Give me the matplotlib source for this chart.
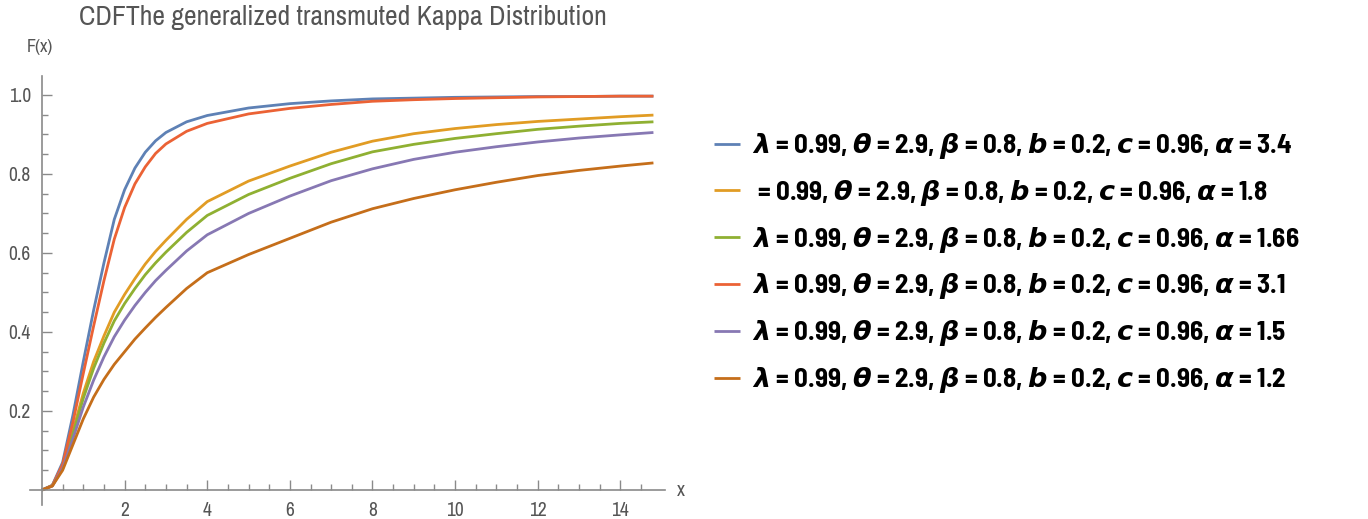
import matplotlib.pyplot as plt
import numpy as np
from matplotlib.ticker import FixedLocator

# values
x = [0, 0.25, 0.5, 0.75, 1, 1.25, 1.5, 1.75, 2, 2.25, 2.5, 2.75, 3, 3.5, 4,
     5, 6, 7, 8, 9, 10, 11, 12, 13, 14, 14.8]

cdf_a34 = [0, 0.012, 0.07, 0.19, 0.325, 0.455, 0.575, 0.685, 0.76, 0.815, 0.855, 0.884, 0.905, 0.932, 0.948,
           0.967, 0.978, 0.985, 0.99, 0.992, 0.994, 0.995, 0.996, 0.996, 0.997, 0.997]
cdf_a18 = [0, 0.011, 0.06, 0.15, 0.245, 0.325, 0.39, 0.45, 0.495, 0.535, 0.572, 0.604, 0.632, 0.685, 0.73,
           0.782, 0.82, 0.855, 0.883, 0.902, 0.915, 0.925, 0.933, 0.939, 0.945, 0.949]
cdf_a166 = [0, 0.011, 0.058, 0.143, 0.232, 0.308, 0.372, 0.428, 0.472, 0.51, 0.545, 0.575, 0.602, 0.652, 0.695,
            0.748, 0.789, 0.826, 0.856, 0.875, 0.89, 0.902, 0.913, 0.921, 0.928, 0.932]
cdf_a31 = [0, 0.011, 0.065, 0.172, 0.295, 0.415, 0.53, 0.635, 0.715, 0.775, 0.818, 0.852, 0.876, 0.908, 0.928,
           0.952, 0.966, 0.976, 0.984, 0.988, 0.991, 0.993, 0.995, 0.996, 0.997, 0.997]
cdf_a15 = [0, 0.01, 0.055, 0.13, 0.21, 0.278, 0.337, 0.388, 0.43, 0.467, 0.5, 0.53, 0.556, 0.605, 0.646,
           0.70, 0.744, 0.783, 0.813, 0.837, 0.855, 0.869, 0.881, 0.891, 0.899, 0.905]
cdf_a12 = [0, 0.01, 0.05, 0.115, 0.18, 0.235, 0.28, 0.318, 0.35, 0.382, 0.41, 0.437, 0.462, 0.51, 0.55,
           0.596, 0.637, 0.678, 0.712, 0.738, 0.76, 0.779, 0.796, 0.809, 0.82, 0.828]

labels = [
    r"$\lambda$ = 0.99, $\theta$ = 2.9, $\beta$ = 0.8, $b$ = 0.2, $c$ = 0.96, $\alpha$ = 3.4",
    r" = 0.99, $\theta$ = 2.9, $\beta$ = 0.8, $b$ = 0.2, $c$ = 0.96, $\alpha$ = 1.8",
    r"$\lambda$ = 0.99, $\theta$ = 2.9, $\beta$ = 0.8, $b$ = 0.2, $c$ = 0.96, $\alpha$ = 1.66",
    r"$\lambda$ = 0.99, $\theta$ = 2.9, $\beta$ = 0.8, $b$ = 0.2, $c$ = 0.96, $\alpha$ = 3.1",
    r"$\lambda$ = 0.99, $\theta$ = 2.9, $\beta$ = 0.8, $b$ = 0.2, $c$ = 0.96, $\alpha$ = 1.5",
    r"$\lambda$ = 0.99, $\theta$ = 2.9, $\beta$ = 0.8, $b$ = 0.2, $c$ = 0.96, $\alpha$ = 1.2",
]
series = [cdf_a34, cdf_a18, cdf_a166, cdf_a31, cdf_a15, cdf_a12]
colors = ['#5E81B5', '#E19C24', '#8FB032', '#EB6235', '#8778B3', '#C56E1A']

narrow = ['Archivo Narrow', 'DejaVu Sans']
legend_font = ['Barlow Semi Condensed', 'DejaVu Sans']
plt.rcParams['font.family'] = narrow
plt.rcParams['mathtext.fontset'] = 'custom'
plt.rcParams['mathtext.it'] = 'DejaVu Sans:italic:bold'
plt.rcParams['mathtext.rm'] = 'DejaVu Sans:bold'
plt.rcParams['mathtext.bf'] = 'DejaVu Sans:bold'

fig = plt.figure(figsize=(13.68, 5.19), dpi=100)
ax = fig.add_axes([30 / 1368, 14 / 519, 635 / 1368, 429 / 519])

for ys, c, lab in zip(series, colors, labels):
    ax.plot(x, ys, color=c, lw=2.0, label=lab, solid_capstyle='butt')

ax.set_xlim(-0.29, 15.08)
ax.set_ylim(-0.038, 1.048)

axis_grey = '#8a8a8a'
for side in ['top', 'right']:
    ax.spines[side].set_visible(False)
ax.spines['left'].set_position(('data', 0))
ax.spines['bottom'].set_position(('data', 0))
for side in ['left', 'bottom']:
    ax.spines[side].set_color(axis_grey)
    ax.spines[side].set_linewidth(1.2)

ax.xaxis.set_major_locator(FixedLocator([2, 4, 6, 8, 10, 12, 14]))
ax.xaxis.set_minor_locator(FixedLocator(np.arange(0.5, 15, 0.5)))
ax.yaxis.set_major_locator(FixedLocator([0.2, 0.4, 0.6, 0.8, 1.0]))
ax.yaxis.set_minor_locator(FixedLocator(np.arange(0.05, 1.04, 0.05)))
ax.tick_params(which='both', direction='in', color=axis_grey, width=1.0,
               labelcolor='#555555', labelsize=14)
ax.tick_params(which='major', length=7, pad=8)
ax.tick_params(which='minor', length=4)
ax.yaxis.set_major_formatter(plt.FuncFormatter(lambda v, p: f"{v:.1f}"))

fig.text(343 / 1368, 1 - 18 / 519, 'CDFThe generalized transmuted Kappa Distribution',
         ha='center', va='center', fontsize=20, color='#555555')
fig.text(40 / 1368, 1 - 47 / 519, 'F(x)', ha='center', va='center', fontsize=13, color='#555555')
fig.text(681 / 1368, 1 - 490 / 519, 'x', ha='center', va='center', fontsize=14, color='#555555')

fig.legend(loc='center left', bbox_to_anchor=(690 / 1368, 1 - 263 / 519), frameon=False,
           prop={'family': legend_font, 'weight': 'bold', 'size': 19.5},
           handlelength=0.95, handletextpad=0.45, labelspacing=0.62)

fig.savefig('out.png', dpi=100)
